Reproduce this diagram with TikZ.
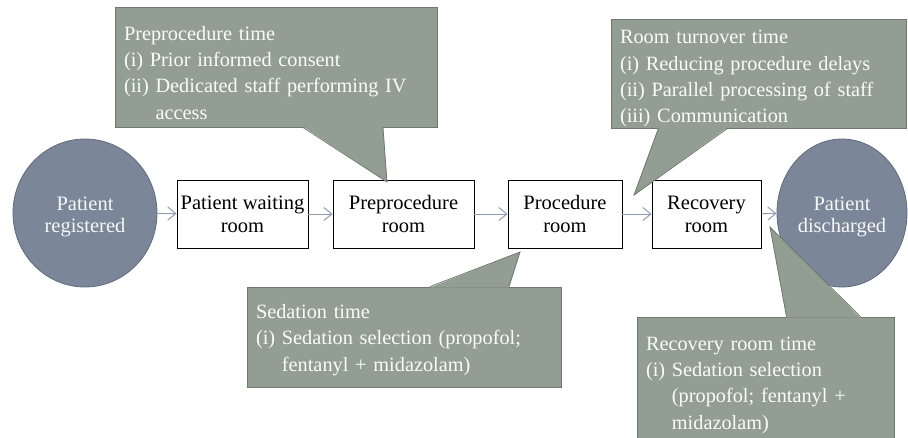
\documentclass[tikz,border=0pt]{standalone}
\usepackage{fontspec}
\setmainfont{Liberation Serif}
\usetikzlibrary{arrows.meta,shapes.geometric}

\definecolor{slate}{HTML}{7B8698}
\definecolor{slateline}{HTML}{5F6A7C}
\definecolor{sage}{HTML}{939E93}
\definecolor{sageline}{HTML}{6E796E}
\definecolor{flowline}{HTML}{8F9CB3}

\tikzset{
  endpoint/.style={ellipse, fill=slate, draw=slateline, line width=0.8pt, text=white!93!slate,
    align=center, inner sep=0pt, font=\fontsize{20.5}{22}\selectfont},
  stage/.style={draw, fill=white, line width=0.8pt, minimum height=68pt, align=center,
    inner sep=0pt, font=\fontsize{20.5}{23}\selectfont},
  flow/.style={draw=flowline, line width=1pt, -{Straight Barb[length=8pt,width=13pt]}},
  note/.style={fill=sage, draw=sageline, line width=0.8pt, text=white!95!sage, align=left,
    inner xsep=9pt, inner ysep=0pt, font=\fontsize{20.3}{26.3}\selectfont},
  notetail/.style={draw=sageline, line width=0.8pt}
}

\begin{document}
\begin{tikzpicture}[x=1pt,y=-1pt]
\path[use as bounding box, clip] (0,0) rectangle (908,437);

% flow of the patient
\node[endpoint, minimum width=144pt, minimum height=148pt] (registered) at (85,213) {\rule{0pt}{22pt}Patient\\registered};
\node[stage, minimum width=131pt] (waiting) at (242.5,214) {Patient waiting\\room};
\node[stage, minimum width=141pt] (preroom) at (403.5,214) {Preprocedure\\room};
\node[stage, minimum width=114pt] (procroom) at (565,214) {Procedure\\room};
\node[stage, minimum width=109pt] (recroom) at (706.5,214) {Recovery\\room};
\node[endpoint, minimum width=130pt, minimum height=148pt] (discharged) at (842,213) {\rule{0pt}{22pt}Patient\\discharged};

\draw[flow] (registered) -- (waiting);
\draw[flow] (waiting) -- (preroom);
\draw[flow] (preroom) -- (procroom);
\draw[flow] (procroom) -- (recroom);
\draw[flow] (recroom) -- (discharged);

% callouts
\node[note, minimum width=322pt, minimum height=120pt, text width=304pt] (pretime) at (276,67)
  {\rule{0pt}{30pt}Preprocedure time\\(i) Prior informed consent\\(ii) Dedicated staff performing IV\\\phantom{(ii) }access};
\coordinate (pretip) at (387,182);
\fill[sage] ([xshift=27pt,yshift=1pt]pretime.south) -- (pretip) -- ([xshift=107pt,yshift=1pt]pretime.south) -- cycle;
\draw[notetail] ([xshift=27pt]pretime.south) -- (pretip) -- ([xshift=107pt]pretime.south);

\node[note, minimum width=295pt, minimum height=109pt, text width=277pt] (turnover) at (758.5,73.5)
  {\rule{0pt}{24pt}Room turnover time\\(i) Reducing procedure delays\\(ii) Parallel processing of staff\\(iii) Communication};
\coordinate (turntip) at (634,195);
\fill[sage] ([xshift=-100pt,yshift=1pt]turnover.south) -- (turntip) -- ([xshift=-31pt,yshift=1pt]turnover.south) -- cycle;
\draw[notetail] ([xshift=-100pt]turnover.south) -- (turntip) -- ([xshift=-31pt]turnover.south);

\node[note, minimum width=314pt, minimum height=100pt, text width=296pt] (sedtime) at (404,337)
  {\rule{0pt}{20pt}Sedation time\\(i) Sedation selection (propofol;\\\phantom{(i) }fentanyl + midazolam)};
\coordinate (sedtip) at (520,252);
\fill[sage] ([xshift=26pt,yshift=-1pt]sedtime.north) -- (sedtip) -- ([xshift=105pt,yshift=-1pt]sedtime.north) -- cycle;
\draw[notetail] ([xshift=26pt]sedtime.north) -- (sedtip) -- ([xshift=105pt]sedtime.north);

\node[note, minimum width=257pt, minimum height=136pt, text width=239pt] (rectime) at (765.5,385)
  {Recovery room time\\(i) Sedation selection\\\phantom{(i) }(propofol; fentanyl +\\\phantom{(i) }midazolam)};
\coordinate (rectip) at (770,227);
\fill[sage] ([xshift=21pt,yshift=-1pt]rectime.north) -- (rectip) -- ([xshift=95pt,yshift=-1pt]rectime.north) -- cycle;
\draw[notetail] ([xshift=21pt]rectime.north) -- (rectip) -- ([xshift=95pt]rectime.north);
\end{tikzpicture}
\end{document}
